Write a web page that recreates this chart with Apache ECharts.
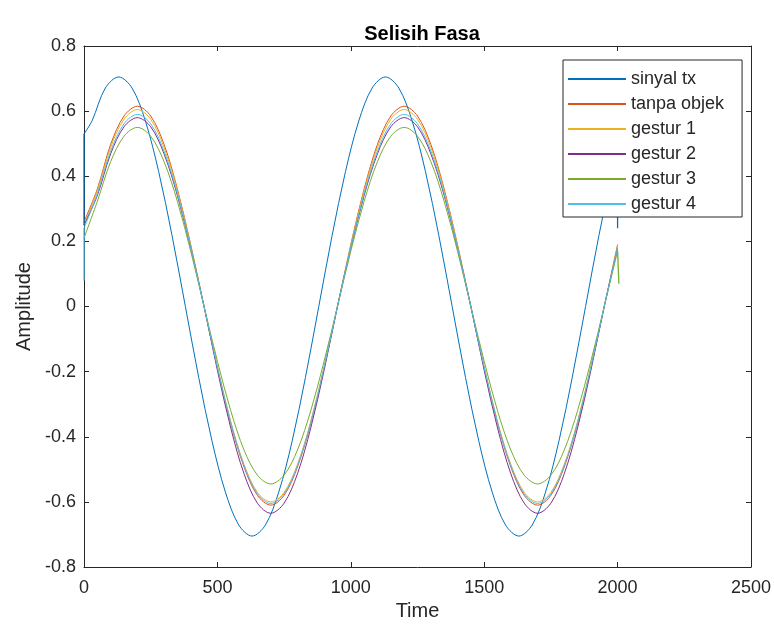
<!DOCTYPE html>
<html>
<head>
<meta charset="utf-8">
<script src="https://cdn.jsdelivr.net/npm/echarts@6/dist/echarts.min.js"></script>
<style>html,body{margin:0;padding:0;background:#fff}#c{width:774px;height:628px}</style>
</head>
<body>
<div id="c"></div>
<script>
// sample positions for the received traces
const xs = [0,50,100,150,200,250,300,350,400,450,500,550,600,650,700,750,800,850,900,950,
  1000,1050,1100,1150,1200,1250,1300,1350,1400,1450,1500,1550,1600,1650,1700,1750,1800,1850,1900,1950,2000];
// sample positions for the transmitted trace
const txXs = [0,30,80,130,180,230,280,330,380,430,480,530,580,630,680,730,780,830,880,930,980,
  1030,1080,1130,1180,1230,1280,1330,1380,1430,1480,1530,1580,1630,1680,1730,1780,1830,1880,1930,1980,2000];

const sinyalTx = [0.53,0.570,0.671,0.705,0.671,0.570,0.414,0.218,0,-0.218,-0.414,-0.570,-0.671,-0.705,-0.671,-0.570,-0.414,-0.218,0,0.218,0.414,
  0.570,0.671,0.705,0.671,0.570,0.414,0.218,0,-0.218,-0.414,-0.570,-0.671,-0.705,-0.671,-0.570,-0.414,-0.218,0,0.218,0.414,0.483];

const tanpaObjek = [0.26,0.361,0.498,0.585,0.615,0.585,0.498,0.361,0.190,0,-0.188,-0.359,-0.493,-0.580,-0.610,-0.580,-0.493,-0.359,-0.188,0,
  0.190,0.361,0.498,0.585,0.615,0.585,0.498,0.361,0.190,0,-0.188,-0.359,-0.493,-0.580,-0.610,-0.580,-0.493,-0.359,-0.188,0,0.190];

const gestur1 = [0.25,0.356,0.489,0.575,0.605,0.575,0.489,0.356,0.187,0,-0.185,-0.353,-0.485,-0.571,-0.600,-0.571,-0.485,-0.353,-0.185,0,
  0.187,0.356,0.489,0.575,0.605,0.575,0.489,0.356,0.187,0,-0.185,-0.353,-0.485,-0.571,-0.600,-0.571,-0.485,-0.353,-0.185,0,0.187];

const gestur2 = [0.25,0.341,0.469,0.552,0.580,0.552,0.469,0.341,0.179,0,-0.196,-0.373,-0.514,-0.604,-0.635,-0.604,-0.514,-0.373,-0.196,0,
  0.179,0.341,0.469,0.552,0.580,0.552,0.469,0.341,0.179,0,-0.196,-0.373,-0.514,-0.604,-0.635,-0.604,-0.514,-0.373,-0.196,0,0.179];

const gestur3 = [0.21,0.323,0.445,0.523,0.550,0.523,0.445,0.323,0.170,0,-0.168,-0.320,-0.441,-0.518,-0.545,-0.518,-0.441,-0.320,-0.168,0,
  0.170,0.323,0.445,0.523,0.550,0.523,0.445,0.323,0.170,0,-0.168,-0.320,-0.441,-0.518,-0.545,-0.518,-0.441,-0.320,-0.168,0,0.170];

const gestur4 = [0.24,0.347,0.477,0.561,0.590,0.561,0.477,0.347,0.182,0,-0.187,-0.356,-0.489,-0.575,-0.605,-0.575,-0.489,-0.356,-0.187,0,
  0.182,0.347,0.477,0.561,0.590,0.561,0.477,0.347,0.182,0,-0.187,-0.356,-0.489,-0.575,-0.605,-0.575,-0.489,-0.356,-0.187,0,0.182];

// short edge artifacts seen at the start and end of some traces
const txStartEdge = [[0,0.25],[0,0.53]];
const txEndEdge = [[2000,0.483],[2000,0.24]];
const g4StartEdge = [[0,0.08],[0,0.24]];
const g3EndEdge = [[2000,0.17],[2005,0.07]];

const names = ['sinyal tx','tanpa objek','gestur 1','gestur 2','gestur 3','gestur 4'];
const colors = ['#0072BD','#D95319','#EDB120','#7E2F8E','#77AC30','#4DBEEE'];
const values = [sinyalTx,tanpaObjek,gestur1,gestur2,gestur3,gestur4];
const xsets = [txXs,xs,xs,xs,xs,xs];

const FONT = 'Liberation Sans, Arial, Helvetica, sans-serif';
const INK = '#262626';

const series = values.map((v,i)=>({
  name: names[i], type:'line', xAxisIndex:0, yAxisIndex:0,
  data: xsets[i].map((x,k)=>[x,v[k]]),
  symbol:'none', smooth:0.33,
  lineStyle:{color:colors[i], width:1}, itemStyle:{color:colors[i]},
  z: 2
}));
function edge(name, data, color){
  return {name:name, type:'line', data:data, symbol:'none',
    lineStyle:{color:color,width:1.3}, itemStyle:{color:color}, z:2};
}
series.push(edge('_a', txStartEdge, colors[0]));
series.push(edge('_b', txEndEdge, colors[0]));
series.push(edge('_c', g4StartEdge, colors[5]));
series.push(edge('_d', g3EndEdge, colors[4]));

function axisCommon(){
  return {
    axisLine:{show:true, onZero:false, lineStyle:{color:INK,width:1}},
    axisTick:{show:true, inside:true, length:5, lineStyle:{color:INK}},
    splitLine:{show:false}
  };
}

const chart = echarts.init(document.getElementById('c'), null, {renderer:'canvas'});
chart.setOption({
  animation:false,
  backgroundColor:'#fff',
  title:{text:'Selisih Fasa', left:417, textAlign:'center', top:19,
    textStyle:{fontFamily:FONT, fontSize:20, fontWeight:'bold', color:'#000'}},
  legend:{
    data:names, orient:'vertical', left:563, top:60, z:10,
    itemWidth:58, itemHeight:14, itemGap:7, itemTextGap:6,
    padding:[10,18,4,4],
    itemStyle:{opacity:0},
    backgroundColor:'#fff', borderColor:INK, borderWidth:1, borderRadius:0,
    textStyle:{fontFamily:FONT, fontSize:18, lineHeight:18, color:INK}
  },
  grid:{left:84, right:23, top:46, bottom:61, containLabel:false},
  xAxis:[
    Object.assign({type:'value', min:0, max:2500, interval:500, position:'bottom',
      name:'Time', nameLocation:'middle', nameGap:30,
      nameTextStyle:{fontFamily:FONT, fontSize:20, color:INK},
      axisLabel:{fontFamily:FONT, fontSize:18, color:INK, margin:12, formatter:v=>String(v)}}, axisCommon()),
    Object.assign({type:'value', min:0, max:2500, interval:500, position:'top',
      axisLabel:{show:false}}, axisCommon())
  ],
  yAxis:[
    Object.assign({type:'value', min:-0.8, max:0.8, interval:0.2, position:'left',
      name:'Amplitude', nameLocation:'middle', nameGap:50, nameRotate:90,
      nameTextStyle:{fontFamily:FONT, fontSize:20, color:INK},
      axisLabel:{fontFamily:FONT, fontSize:18, color:INK, margin:8,
        formatter:v=>String(Math.round(v*10)/10)}}, axisCommon()),
    Object.assign({type:'value', min:-0.8, max:0.8, interval:0.2, position:'right',
      axisLabel:{show:false}}, axisCommon())
  ],
  series:series
});
</script>
</body>
</html>
